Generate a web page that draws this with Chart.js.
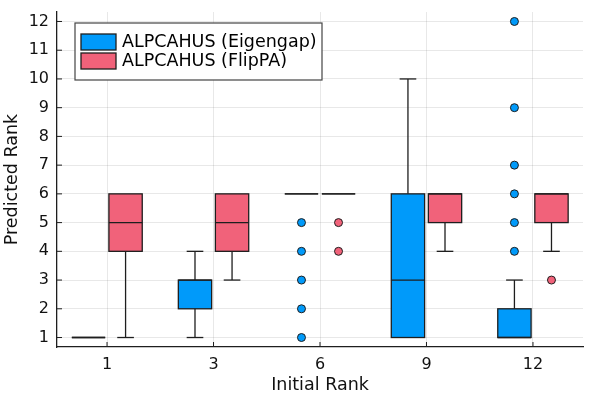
<!DOCTYPE html>
<html>
<head>
<meta charset="utf-8">
<script src="https://cdn.jsdelivr.net/npm/chart.js@4.4.1/dist/chart.umd.min.js"></script>
<style>
  html, body { margin: 0; padding: 0; background: #fff; }
  #wrap { width: 595px; height: 397px; }
</style>
</head>
<body>
<div id="wrap"><canvas id="chart" width="595" height="397"></canvas></div>
<script>
// Data
const categories = ['1', '3', '6', '9', '12'];
const yTicks = [1, 2, 3, 4, 5, 6, 7, 8, 9, 10, 11, 12];

// ALPCAHUS (Eigengap)
const eigLow = [1, 1, 6, 1, 1];
const eigQ1 = [1, 2, 6, 1, 1];
const eigMed = [1, 3, 6, 3, 1];
const eigQ3 = [1, 3, 6, 6, 2];
const eigHigh = [1, 4, 6, 10, 3];
const eigOutliers = [[], [], [5, 4, 3, 2, 1], [], [12, 9, 7, 6, 5, 4]];

// ALPCAHUS (FlipPA)
const flipLow = [1, 3, 6, 4, 4];
const flipQ1 = [4, 4, 6, 5, 5];
const flipMed = [5, 5, 6, 6, 6];
const flipQ3 = [6, 6, 6, 6, 6];
const flipHigh = [6, 6, 6, 6, 6];
const flipOutliers = [[], [], [5, 4], [], [3]];

const blue = '#009afa';
const red = '#f1627a';
const edge = '#1e1e1e';
const font = "'DejaVu Sans', sans-serif";
const boxWidth = 0.313;   // in category units
const shift = 0.174;

const series = [
    { label: 'ALPCAHUS (Eigengap)', color: blue, shift: -shift, low: eigLow, q1: eigQ1, med: eigMed, q3: eigQ3, high: eigHigh, out: eigOutliers },
    { label: 'ALPCAHUS (FlipPA)', color: red, shift: shift, low: flipLow, q1: flipQ1, med: flipMed, q3: flipQ3, high: flipHigh, out: flipOutliers }
];

function hline(ctx, x1, x2, yy) {
    ctx.beginPath(); ctx.moveTo(x1, yy); ctx.lineTo(x2, yy); ctx.stroke();
}
function vline(ctx, xx, y1, y2) {
    ctx.beginPath(); ctx.moveTo(xx, y1); ctx.lineTo(xx, y2); ctx.stroke();
}

// Boxes, whiskers and medians
const boxPlugin = {
    id: 'boxes',
    beforeDatasetsDraw(chart) {
        const { ctx, scales: { x, y } } = chart;
        const half = (x.getPixelForValue(boxWidth) - x.getPixelForValue(0)) / 2;
        ctx.save();
        ctx.strokeStyle = edge;
        ctx.lineWidth = 1.3;
        series.forEach(s => {
            s.q1.forEach((q1, i) => {
                const cx = x.getPixelForValue(i + s.shift);
                const top = y.getPixelForValue(s.q3[i]);
                const bot = y.getPixelForValue(q1);
                const hi = y.getPixelForValue(s.high[i]);
                const lo = y.getPixelForValue(s.low[i]);
                if (s.high[i] > s.q3[i]) {
                    vline(ctx, cx, top, hi);
                    hline(ctx, cx - half / 2, cx + half / 2, hi);
                }
                if (s.low[i] < q1) {
                    vline(ctx, cx, bot, lo);
                    hline(ctx, cx - half / 2, cx + half / 2, lo);
                }
                ctx.fillStyle = s.color;
                ctx.fillRect(cx - half, top, 2 * half, bot - top);
                ctx.strokeRect(cx - half, top, 2 * half, bot - top);
                hline(ctx, cx - half, cx + half, y.getPixelForValue(s.med[i]));
            });
        });
        ctx.restore();
    },
    afterDraw(chart) {
        const { ctx, chartArea, scales: { x, y } } = chart;
        ctx.save();
        // inward tick marks
        ctx.strokeStyle = edge;
        ctx.lineWidth = 1;
        yTicks.forEach(v => hline(ctx, chartArea.left, chartArea.left + 5, y.getPixelForValue(v)));
        categories.forEach((c, i) => vline(ctx, x.getPixelForValue(i), chartArea.bottom, chartArea.bottom - 5));

        // legend
        const lx = 75, ly = 23, lw = 247, lh = 57;
        ctx.fillStyle = '#fff';
        ctx.fillRect(lx, ly, lw, lh);
        ctx.strokeStyle = '#444';
        ctx.lineWidth = 1.2;
        ctx.strokeRect(lx, ly, lw, lh);
        ctx.font = '17.5px ' + font;
        ctx.textBaseline = 'middle';
        series.forEach((s, k) => {
            const ry = 34 + k * 19;
            ctx.fillStyle = s.color;
            ctx.fillRect(81, ry, 35, 16);
            ctx.strokeStyle = edge;
            ctx.lineWidth = 1.3;
            ctx.strokeRect(81, ry, 35, 16);
            ctx.fillStyle = '#000';
            ctx.fillText(s.label, 122, ry + 8.5);
        });
        ctx.restore();
    }
};

// Outlier points
const datasets = series.map(s => ({
    label: s.label,
    data: s.out.flatMap((vals, i) => vals.map(v => ({ x: i + s.shift, y: v }))),
    backgroundColor: s.color,
    borderColor: edge,
    borderWidth: 1,
    pointRadius: 4,
    pointHoverRadius: 4
}));

new Chart(document.getElementById('chart'), {
    type: 'scatter',
    data: { datasets },
    options: {
        responsive: false,
        animation: false,
        layout: { padding: { top: 12, right: 12, left: 0, bottom: 0 } },
        plugins: { legend: { display: false }, tooltip: { enabled: false } },
        scales: {
            x: {
                type: 'linear',
                min: -0.47,
                max: 4.47,
                afterBuildTicks: s => { s.ticks = categories.map((c, i) => ({ value: i })); },
                afterFit: s => { s.height = 50; s.paddingLeft = 0; s.paddingRight = 0; },
                ticks: {
                    callback: v => categories[v],
                    font: { family: font, size: 16 },
                    color: '#111',
                    padding: 8,
                    maxRotation: 0
                },
                grid: { color: 'rgba(0,0,0,0.09)', drawTicks: false },
                border: { color: edge, width: 1.3 },
                title: {
                    display: true,
                    text: 'Initial Rank',
                    font: { family: font, size: 17.5 },
                    color: '#111',
                    padding: { top: 0, bottom: 1 }
                }
            },
            y: {
                min: 0.67,
                max: 12.33,
                afterBuildTicks: s => { s.ticks = yTicks.map(v => ({ value: v })); },
                afterFit: s => { s.width = 57; s.paddingTop = 0; s.paddingBottom = 0; },
                ticks: {
                    font: { family: font, size: 16 },
                    color: '#111',
                    padding: 8
                },
                grid: { color: 'rgba(0,0,0,0.09)', drawTicks: false },
                border: { color: edge, width: 1.3 },
                title: {
                    display: true,
                    text: 'Predicted Rank',
                    font: { family: font, size: 17.5 },
                    color: '#111',
                    padding: { top: 2, bottom: 0 }
                }
            }
        }
    },
    plugins: [boxPlugin]
});
</script>
</body>
</html>
